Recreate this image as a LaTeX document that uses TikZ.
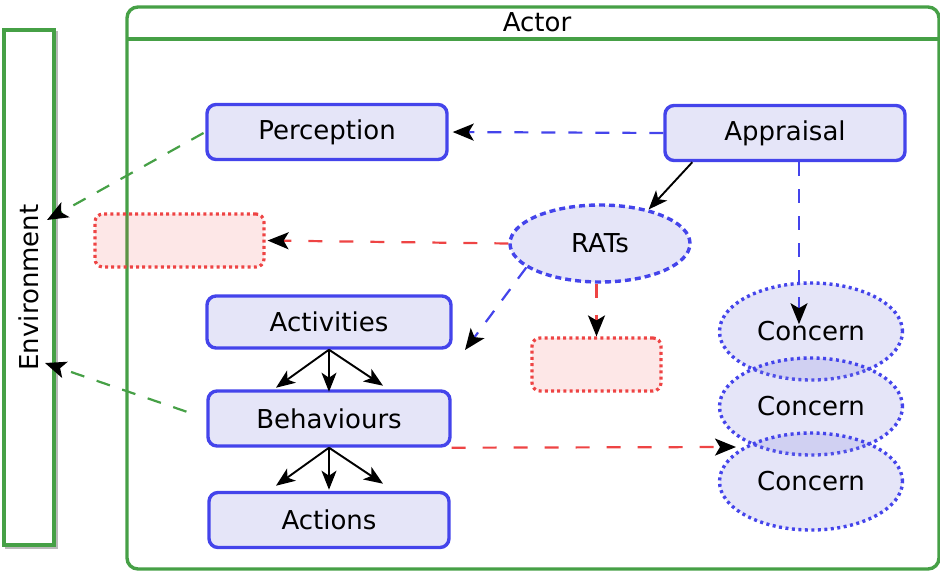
\documentclass[tikz,border=0pt]{standalone}
\usepackage{fontspec}
\setmainfont{DejaVu Sans}
\usetikzlibrary{shapes.geometric,arrows.meta,calc}
\definecolor{bblue}{RGB}{68,68,235}
\definecolor{gline}{RGB}{70,160,70}
\definecolor{rline}{RGB}{238,68,68}
\definecolor{bfill}{RGB}{229,229,248}
\definecolor{cfill}{RGB}{125,125,220}
\begin{document}
\begin{tikzpicture}[x=1pt,y=1pt,
  txt/.style={font=\fontsize{26}{31}\selectfont},
  procbox/.style={txt,draw=bblue,line width=3.4pt,fill=bfill,rounded corners=9pt,
    minimum width=240pt,minimum height=55pt,inner sep=0pt},
  ratsell/.style={txt,ellipse,draw=bblue,line width=3.4pt,dash pattern=on 6pt off 4pt,
    fill=bfill,minimum width=180pt,minimum height=77pt,inner sep=0pt},
  concern/.style={txt,ellipse,draw=bblue,line width=3.4pt,dash pattern=on 3pt off 3.5pt,
    fill=cfill,fill opacity=0.2,text opacity=1,draw opacity=1,
    minimum width=183pt,minimum height=97pt,inner sep=0pt},
  redbox/.style={draw=rline,line width=3.2pt,dash pattern=on 3pt off 3.2pt,
    fill=rline,fill opacity=0.13,draw opacity=1,rounded corners=8pt,inner sep=0pt},
  tip/.style={-{Stealth[length=21pt,width=17pt,inset=5pt,color=black]}},
  bdash/.style={tip,draw=bblue,line width=2.2pt,dash pattern=on 14pt off 13pt},
  rdash/.style={tip,draw=rline,line width=2.2pt,dash pattern=on 14pt off 17pt},
  gdash/.style={tip,draw=gline,line width=2.2pt,dash pattern=on 14pt off 13pt},
  blk/.style={-{Stealth[length=19pt,width=15pt,inset=5pt]},draw=black,line width=1.9pt}
]
\useasboundingbox (0,0) rectangle (940,-571);

% Environment
\draw[gray!55,line width=3.4pt] (6.5,-32.5) rectangle (56.5,-547.5);
\node[txt,rotate=90,draw=gline,line width=3.4pt,fill=white,minimum width=515pt,minimum height=50pt,inner sep=0pt]
  (env) at (29,-287.5) {Environment};

% Actor
\draw[gline,line width=3.4pt,rounded corners=11pt] (127,-7) rectangle (939,-569);
\draw[gline,line width=3.4pt] (127,-39) -- (939,-39);
\node[txt] (actor) at (537,-22) {Actor};

% process boxes
\node[procbox] (perc) at (327,-132) {Perception};
\node[procbox] (appr) at (785,-133) {Appraisal};
\node[procbox,minimum width=244pt,minimum height=52pt] (act) at (329,-322) {Activities};
\node[procbox,minimum width=242pt] (beh) at (329,-418.5) {Behaviours};
\node[procbox] (actions) at (329,-520) {Actions};

\node[ratsell] (rats) at (600,-243.5) {RATs};

\node[redbox,minimum width=169pt,minimum height=53pt] (red1) at (179.5,-240.5) {};
\node[redbox,minimum width=129pt,minimum height=53pt] (red2) at (596.5,-364.5) {};

\node[concern] (c1) at (811,-331.5) {Concern};
\node[concern] (c2) at (811,-406.5) {Concern};
\node[concern] (c3) at (811,-481.5) {Concern};

% coordinates for free ends
\coordinate (envA) at (47,-220);
\coordinate (envB) at (45,-363);
\coordinate (actTip) at (465,-350);
\coordinate (cTip) at (736,-447);

% connectors
\draw[bdash,shorten >=4pt] (appr.west) -- (perc.east);
\draw[gdash,shorten <=2pt] (perc.west) -- (envA);
\draw[gdash,shorten <=21pt] (beh.west) -- (envB);
\draw[rdash,shorten >=2pt] (rats.west) -- (red1.east);
\draw[rdash] (red2.north |- rats.south) -- (red2.north);
\draw[bdash] (rats.198) -- (actTip);
\draw[blk] ($(appr.south west)+(29,0)$) -- (rats.35);
\draw[bdash] ($(appr.south)+(14,0)$) -- ($(appr.south)+(14,-162)$);
\draw[rdash] (beh.south east) -- (cTip);

\draw[blk] (act.south) -- ++(-53,-38);
\draw[blk] (act.south) -- ++(0,-42);
\draw[blk] (act.south) -- ++(54,-36);
\draw[blk] (beh.south) -- ++(-53,-38);
\draw[blk] (beh.south) -- ++(0,-42);
\draw[blk] (beh.south) -- ++(54,-36);
\end{tikzpicture}
\end{document}
